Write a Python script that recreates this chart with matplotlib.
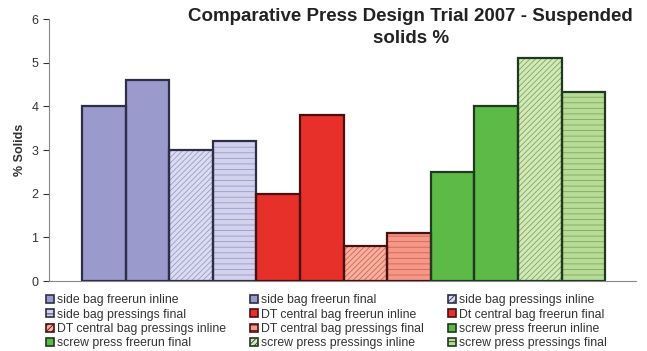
import matplotlib
matplotlib.use("Agg")
import matplotlib.pyplot as plt
from matplotlib.patches import Patch

plt.rcParams['font.family'] = ['Liberation Sans', 'DejaVu Sans']
plt.rcParams['hatch.linewidth'] = 0.6

# Data
series = [
    "side bag freerun inline", "side bag freerun final",
    "side bag pressings inline", "side bag pressings final",
    "DT central bag freerun inline", "Dt central bag freerun final",
    "DT central bag pressings inline", "DT central bag pressings final",
    "screw press freerun inline", "screw press freerun final",
    "screw press pressings inline", "screw press pressings final",
]
values = [4.0, 4.6, 3.0, 3.2, 2.0, 3.8, 0.8, 1.1, 2.5, 4.0, 5.1, 4.33]

# Styles per group: freerun inline, freerun final, pressings inline, pressings final
faces = ["#9a9acc", "#9a9acc", "#dcdcf0", "#d2d2ec",
         "#e8302a", "#e8302a", "#f6b0a0", "#f4998a",
         "#5dba46", "#5dba46", "#d4e8bc", "#b8dc98"]
edges = ["#2e2e48"] * 4 + ["#4a1010"] * 4 + ["#1f3a1f"] * 4
hatch_col = ["#9a9acc"] * 4 + ["#d86050"] * 4 + ["#7aaa5a"] * 4
hatches = ["", "", "//////", "---"] * 3

fig = plt.figure(figsize=(6.47, 3.51), dpi=100)
ax = fig.add_axes([0.0757, 0.1994, 0.907, 0.7464])

handles = []
for i, (v, name) in enumerate(zip(values, series)):
    # hatch drawn in hatch colour, then outline
    ax.bar(i, v, width=1.0, align='edge', color=faces[i],
           edgecolor=hatch_col[i], hatch=hatches[i], linewidth=0, zorder=2)
    ax.bar(i, v, width=1.0, align='edge', fill=False,
           edgecolor=edges[i], linewidth=1.6, zorder=3)
    handles.append(Patch(facecolor=faces[i], edgecolor=edges[i], linewidth=1.2,
                         hatch=hatches[i], label=name))

ax.set_xlim(-0.757, 12.70)
ax.set_ylim(0, 6)
ax.set_yticks(range(0, 7))
ax.set_xticks([])
ax.tick_params(axis='y', labelsize=9, colors='#333333', length=4, width=0.8)
ax.spines['top'].set_visible(False)
ax.spines['right'].set_visible(False)
ax.spines['left'].set_color('#888888')
ax.spines['bottom'].set_color('#888888')
ax.set_ylabel("% Solids", fontsize=9, fontweight='bold', color='#333333', labelpad=4)

fig.text(0.635, 0.978, "Comparative Press Design Trial 2007 - Suspended\nsolids %",
         ha='center', va='top', fontsize=13.5, fontweight='bold', color='#222222',
         linespacing=1.4)

# legend reads row by row, matplotlib fills column by column
order = [r * 3 + c for c in range(3) for r in range(4)]
fig.legend(handles=[handles[k] for k in order], ncol=3, loc='upper left',
           bbox_to_anchor=(0.063, 0.176), frameon=False, fontsize=8.8,
           handlelength=0.65, handleheight=0.65, handletextpad=0.25,
           columnspacing=2.0, labelspacing=0.2, borderaxespad=0,
           labelcolor='#333333')

fig.savefig("out.png", dpi=100)
